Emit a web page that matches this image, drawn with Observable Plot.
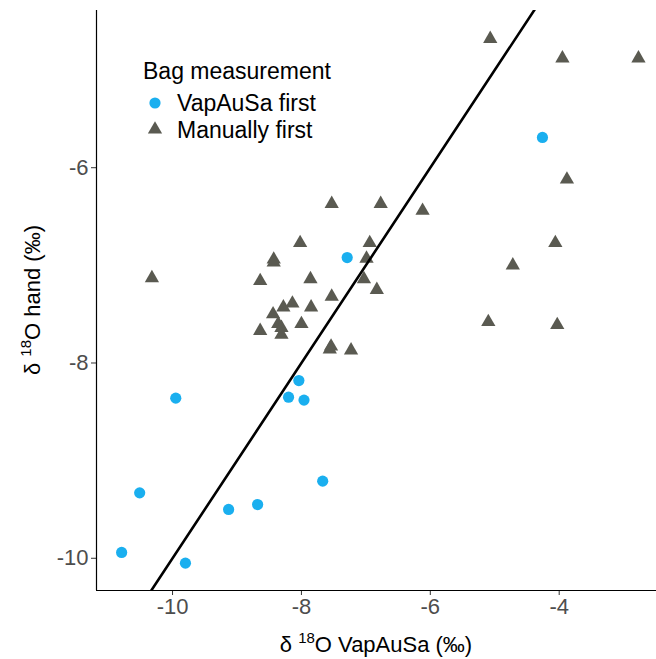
<!DOCTYPE html>
<html>
<head>
<meta charset="utf-8">
<script src="https://cdn.jsdelivr.net/npm/d3@7"></script>
<script src="https://cdn.jsdelivr.net/npm/@observablehq/plot@0.6"></script>
<style>
  html, body { margin: 0; padding: 0; background: #fff; }
  #chart { width: 656px; height: 659px; }
  svg { font-family: "Liberation Sans", Arial, sans-serif; }
</style>
</head>
<body>
<div id="chart"></div>
<script>
// VapAuSa-first bags: δ18O VapAuSa (x) and δ18O hand (y)
const vapX = [-10.79, -9.80, -9.13, -8.68, -10.51, -9.95, -7.67, -8.20, -8.04, -7.96, -7.29, -4.26];
const vapY = [-9.94, -10.05, -9.50, -9.45, -9.33, -8.36, -9.21, -8.35, -8.18, -8.38, -6.92, -5.69];

// Manually-first bags
const manX = [-7.53, -6.77, -8.02, -6.94, -8.43, -8.43, -6.99, -10.32, -8.64, -7.86, -7.03, -6.83,
              -7.53, -8.14, -8.28, -7.85, -8.44, -8.36, -8.00, -8.64, -8.31, -8.31, -7.56, -7.54,
              -7.23, -5.07, -3.95, -2.77, -3.88, -6.12, -4.06, -4.72, -5.10, -4.03];
const manY = [-6.37, -6.37, -6.77, -6.77, -6.94, -6.97, -6.93, -7.13, -7.16, -7.14, -7.14, -7.25,
              -7.32, -7.39, -7.43, -7.43, -7.50, -7.60, -7.60, -7.67, -7.64, -7.71, -7.86, -7.83,
              -7.87, -4.68, -4.88, -4.88, -6.12, -6.44, -6.77, -7.00, -7.58, -7.61];

const groups = ["VapAuSa first", "Manually first"];
const groupColors = ["#1AAFEF", "#5A5A51"];
const xTicks = [-10, -8, -6, -4];
const yTicks = [-10, -8, -6];
const xDomain = [-11.18, -2.49];
const yDomain = [-10.33, -4.39];
const oneToOne = [-12, -2]; // 1:1 reference line (x = y)

const vapData = vapX.map((x, i) => ({x, y: vapY[i]}));
const manData = manX.map((x, i) => ({x, y: manY[i]}));

const W = 656, H = 659;
const mL = 96, mR = 0, mT = 10, mB = 69;

const plot = Plot.plot({
  width: W,
  height: H,
  marginLeft: mL,
  marginRight: mR,
  marginTop: mT,
  marginBottom: mB,
  x: {domain: xDomain},
  y: {domain: yDomain},
  style: {fontFamily: "Liberation Sans, Arial, sans-serif", background: "white"},
  marks: [
    Plot.axisX({ticks: xTicks, tickSize: 5, tickPadding: 3, fontSize: 22, fill: "#4d4d4d", stroke: "#333", label: null, tickFormat: d => String(d)}),
    Plot.axisY({ticks: yTicks, tickSize: 5, tickPadding: 3, fontSize: 22, fill: "#4d4d4d", stroke: "#333", label: null, tickFormat: d => String(d)}),
    Plot.ruleX([xDomain[0]], {stroke: "black", strokeWidth: 1.2}),
    Plot.ruleY([yDomain[0]], {stroke: "black", strokeWidth: 1.2}),
    Plot.dot(manData, {x: "x", y: "y", symbol: "triangle", r: 5.3, fill: groupColors[1], stroke: null}),
    Plot.dot(vapData, {x: "x", y: "y", symbol: "circle", r: 5.6, fill: groupColors[0], stroke: null}),
    Plot.line(oneToOne.map(v => ({x: v, y: v})), {x: "x", y: "y", stroke: "black", strokeWidth: 2.6, clip: true})
  ]
});

document.getElementById("chart").appendChild(plot);

const svg = d3.select(plot);

// Axis titles
const xt = svg.append("text")
  .attr("x", mL + (W - mL - mR) / 2)
  .attr("y", 652)
  .attr("text-anchor", "middle")
  .attr("fill", "black")
  .style("font-size", "22px");
xt.append("tspan").text("δ ");
xt.append("tspan").attr("dy", -9).style("font-size", "15px").text("18");
xt.append("tspan").attr("dy", 9).text("O VapAuSa (‰)");

const yt = svg.append("text")
  .attr("transform", `translate(40, ${mT + (H - mT - mB) / 2}) rotate(-90)`)
  .attr("text-anchor", "middle")
  .attr("fill", "black")
  .style("font-size", "22px");
yt.append("tspan").text("δ ");
yt.append("tspan").attr("dy", -9).style("font-size", "15px").text("18");
yt.append("tspan").attr("dy", 9).text("O hand (‰)");

// Legend
const lg = svg.append("g").attr("text-anchor", "start");
lg.append("text").attr("x", 143).attr("y", 79).attr("text-anchor", "start").style("font-size", "23px").attr("fill", "black").text("Bag measurement");
const legendSymbols = [d3.symbolCircle, d3.symbolTriangle];
const legendSizes = [Math.PI * 5.6 * 5.6, Math.PI * 5.3 * 5.3];
groups.forEach((g, i) => {
  const cy = 103 + i * 26.5;
  lg.append("path")
    .attr("d", d3.symbol(legendSymbols[i], legendSizes[i])())
    .attr("transform", `translate(155, ${cy})`)
    .attr("fill", groupColors[i]);
  lg.append("text").attr("x", 177).attr("y", cy + 8).attr("text-anchor", "start").style("font-size", "23px").attr("fill", "black").text(g);
});
</script>
</body>
</html>
